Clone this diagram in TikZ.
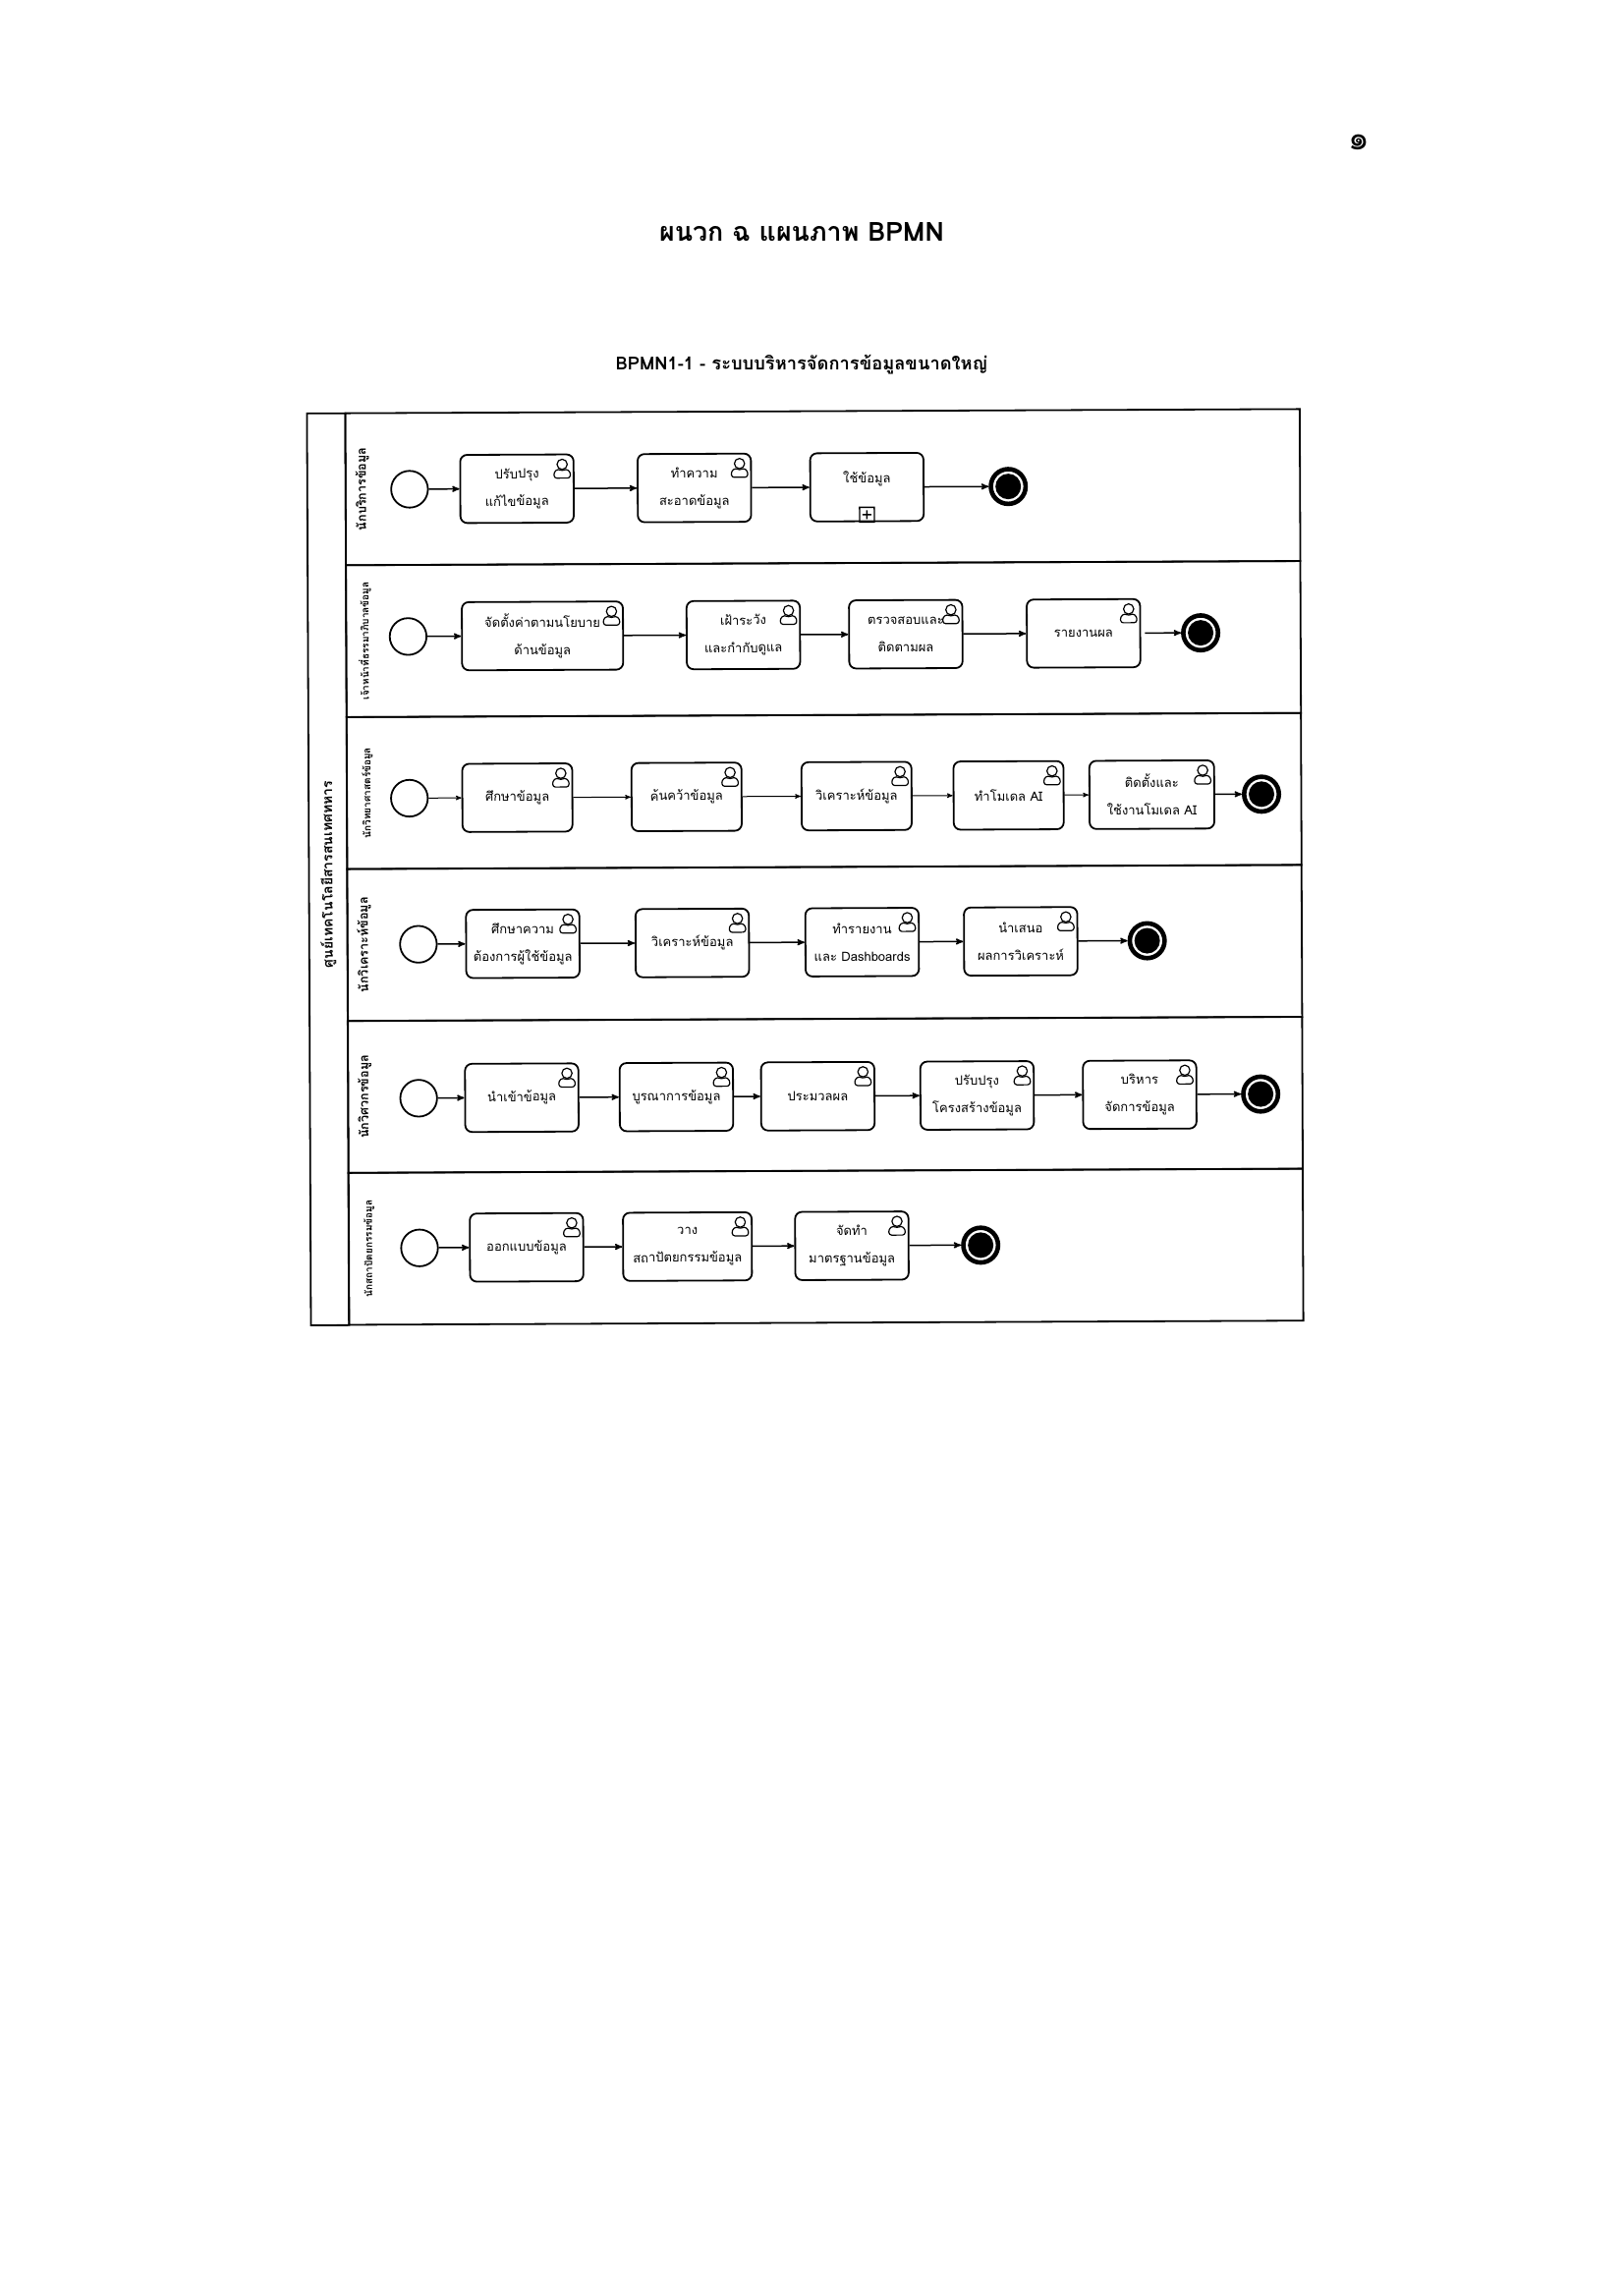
\documentclass[tikz,border=0pt]{standalone}
\usepackage{fontspec}
\setmainfont[Script=Thai]{Loma}
\usetikzlibrary{arrows,positioning}

\begin{document}
\begin{tikzpicture}[x=1pt,y=-1pt,>=stealth']
\tikzstyle{lanebox}=[draw,line width=1.8pt,outer sep=0pt,inner sep=0pt,minimum width=971.5pt,minimum height=154.7pt]
\tikzstyle{lanetext}=[rotate=90,inner sep=0pt,font=\bfseries\fontsize{12.6}{15}\selectfont]
\tikzstyle{lanesmall}=[rotate=90,inner sep=0pt,font=\bfseries\fontsize{10}{12}\selectfont]
\tikzstyle{startev}=[circle,draw,line width=1.8pt,minimum size=37.4pt,inner sep=0pt,outer sep=0.9pt]
\tikzstyle{endev}=[circle,draw,line width=4.6pt,minimum size=35.4pt,inner sep=0pt,outer sep=2.3pt,
path picture={\fill (path picture bounding box.center) circle (13pt);}]
\tikzstyle{usertask}=[rectangle,draw,rounded corners=7pt,line width=1.8pt,minimum width=115.4pt,minimum height=69.4pt,
inner sep=0pt,outer sep=0.9pt,align=center,font=\fontsize{13}{28}\selectfont]
\tikzstyle{flow}=[->,line width=1.5pt]
\tikzstyle{personline}=[line width=1.2pt,line join=round]

\useasboundingbox (0,0) rectangle (1653,2336);

\node[font=\fontsize{34}{40}\selectfont] (pagenum) at (1383,145) {๑};
\node[font=\bfseries\fontsize{26.8}{32}\selectfont] (maintitle) at (816,236) {ผนวก ฉ แผนภาพ BPMN};
\node[font=\bfseries\fontsize{18.3}{22}\selectfont] (subtitle) at (816,371) {BPMN1-1 - ระบบบริหารจัดการข้อมูลขนาดใหญ่};

\begin{scope}[rotate around={0.25:(800,900)},every node/.append style={transform shape}]
\node[lanebox,minimum width=39pt,minimum height=928.2pt] (pool) at (334,882.8) {};
\node[lanebox] (lane1) at (839.25,496) {};
\node[lanebox] (lane2) [below=0pt of lane1] {};
\node[lanebox] (lane3) [below=0pt of lane2] {};
\node[lanebox] (lane4) [below=0pt of lane3] {};
\node[lanebox] (lane5) [below=0pt of lane4] {};
\node[lanebox] (lane6) [below=0pt of lane5] {};

\node[inner sep=0pt,rotate=90,font=\bfseries\fontsize{14}{17}\selectfont] (pooltext) at (334,888) {ศูนย์เทคโนโลยีสารสนเทศทหาร};
\node[lanetext] (text1) at ([xshift=17pt]lane1.west) {นักบริการข้อมูล};
\node[lanesmall] (text2) at ([xshift=19pt]lane2.west) {เจ้าหน้าที่ธรรมาภิบาลข้อมูล};
\node[lanesmall] (text3) at ([xshift=21pt]lane3.west) {นักวิทยาศาสตร์ข้อมูล};
\node[lanetext] (text4) at ([xshift=17pt]lane4.west) {นักวิเคราะห์ข้อมูล};
\node[lanetext] (text5) at ([xshift=17pt]lane5.west) {นักวิศวกรข้อมูล};
\node[lanesmall] (text6) at ([xshift=21pt]lane6.west) {นักสถาปัตยกรรมข้อมูล};

\node[startev] (s1) at (418.6,496.3) {};
\node[usertask] (a1) [right=31.2pt of s1] {ปรับปรุง\\แก้ไขข้อมูล};
\node[usertask] (a2) [right=63.4pt of a1] {ทำความ\\สะอาดข้อมูล};
\node[usertask] (a3) [right=58.5pt of a2] {ใช้ข้อมูล\\[-8pt]\mbox{}};
\node[endev] (e1) [right=65.3pt of a3] {};

\node[startev] (s2) at (416.5,646.2) {};
\node[usertask,minimum width=164pt] (b1) [right=34.3pt of s2] {จัดตั้งค่าตามนโยบาย\\ด้านข้อมูล};
\node[usertask] (b2) [right=63pt of b1] {เฝ้าระวัง\\และกำกับดูแล};
\node[usertask] (b3) [right=48.2pt of b2] {ตรวจสอบและ\\ติดตามผล};
\node[usertask] (b4) [right=63.8pt of b3] {รายงานผล};
\node[endev] (e2) [right=40.7pt of b4] {};

\node[startev] (s3) at (417.1,810.8) {};
\node[usertask,minimum width=112pt] (c1) [right=33.4pt of s3] {ศึกษาข้อมูล};
\node[usertask,minimum width=112pt] (c2) [right=58.5pt of c1] {ค้นคว้าข้อมูล};
\node[usertask,minimum width=112pt] (c3) [right=59.3pt of c2] {วิเคราะห์ข้อมูล};
\node[usertask,minimum width=112pt] (c4) [right=41pt of c3] {ทำโมเดล AI};
\node[usertask,minimum width=127pt] (c5) [right=24.6pt of c4] {ติดตั้งและ\\ใช้งานโมเดล AI};
\node[endev] (e3) [right=27.3pt of c5] {};

\node[startev] (s4) at (425.6,959.5) {};
\node[usertask] (d1) [right=28.1pt of s4] {ศึกษาความ\\ต้องการผู้ใช้ข้อมูล};
\node[usertask] (d2) [right=55.4pt of d1] {วิเคราะห์ข้อมูล};
\node[usertask] (d3) [right=55.7pt of d2] {ทำรายงาน\\และ Dashboards};
\node[usertask] (d4) [right=44.3pt of d3] {นำเสนอ\\ผลการวิเคราะห์};
\node[endev] (e4) [right=50.2pt of d4] {};

\node[startev] (s5) at (425.2,1116.2) {};
\node[usertask] (g1) [right=26.8pt of s5] {นำเข้าข้อมูล};
\node[usertask] (g2) [right=40.2pt of g1] {บูรณาการข้อมูล};
\node[usertask] (g3) [right=26.8pt of g2] {ประมวลผล};
\node[usertask] (g4) [right=45pt of g3] {ปรับปรุง\\โครงสร้างข้อมูล};
\node[usertask] (g5) [right=48.4pt of g4] {บริหาร\\จัดการข้อมูล};
\node[endev] (e5) [right=44.6pt of g5] {};

\node[startev] (s6) at (425.4,1268.6) {};
\node[usertask] (f1) [right=30.8pt of s6] {ออกแบบข้อมูล};
\node[usertask,minimum width=131pt] (f2) [right=38.8pt of f1] {วาง\\สถาปัตยกรรมข้อมูล};
\node[usertask] (f3) [right=42.4pt of f2] {จัดทำ\\มาตรฐานข้อมูล};
\node[endev] (e6) [right=52.6pt of f3] {};

\node[draw,line width=1.4pt,minimum size=15pt,inner sep=0pt,outer sep=0pt] (plusbox) [above=0pt of a3.south] {};
\draw[line width=1.4pt] ([xshift=-4.5pt]plusbox.center) -- ([xshift=4.5pt]plusbox.center);
\draw[line width=1.4pt] ([yshift=-4.5pt]plusbox.center) -- ([yshift=4.5pt]plusbox.center);

\foreach \t in {a1,a2,b1,b2,b3,b4,c1,c2,c3,c4,c5,d1,d2,d3,d4,g1,g2,g3,g4,g5,f1,f2,f3}
{
\begin{scope}[shift={(\t.north east)}]
\draw[personline] (-12.5,11) circle (5.2);
\draw[personline,rounded corners=2.5pt] (-20.5,25) -- (-21,19) -- (-16.5,15.5) -- (-12.5,18) -- (-8.5,15.5) -- (-4,19) -- (-4.5,25) -- cycle;
\end{scope}
}

\path[flow]
(s1) edge (a1)
(a1) edge (a2)
(a2) edge (a3)
(a3) edge (e1)
(s2) edge (b1)
(b1) edge (b2)
(b2) edge (b3)
(b3) edge (b4)
(b4) edge[shorten <=4pt] (e2)
(s4) edge (d1)
(d1) edge (d2)
(d2) edge (d3)
(d3) edge (d4)
(d4) edge (e4)
(s5) edge (g1)
(g1) edge (g2)
(g2) edge (g3)
(g3) edge (g4)
(g4) edge (g5)
(g5) edge (e5)
(s6) edge (f1)
(f1) edge (f2)
(f2) edge (f3)
(f3) edge (e6);
\path[flow,line width=1pt]
(s3) edge (c1)
(c1) edge (c2)
(c2) edge (c3)
(c3) edge (c4)
(c4) edge (c5)
(c5) edge[line width=1.5pt] (e3);
\end{scope}
\end{tikzpicture}
\end{document}
